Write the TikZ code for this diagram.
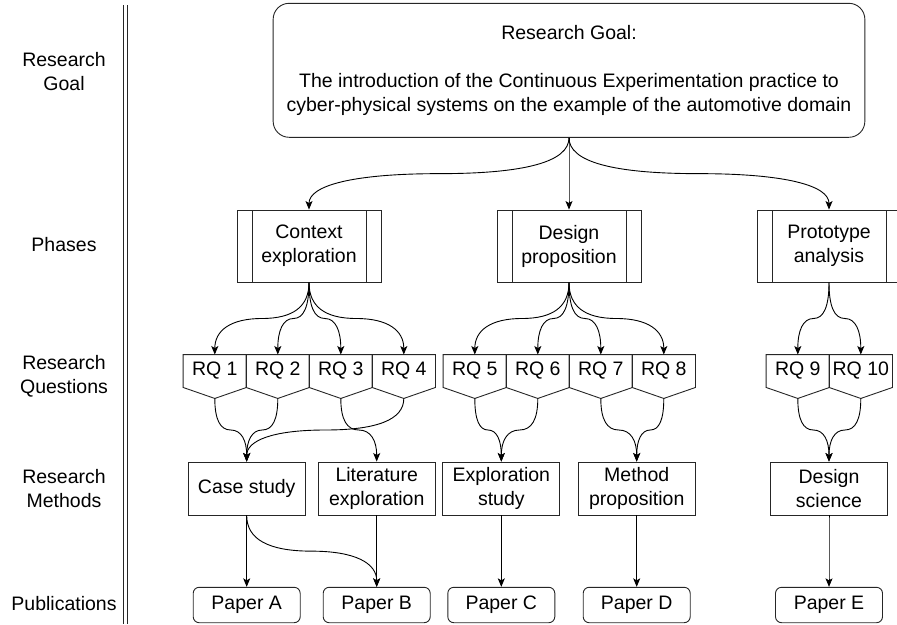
\documentclass[tikz,border=0pt]{standalone}
\usepackage{fontspec}
\setmainfont{Liberation Sans}
\usetikzlibrary{arrows.meta,calc}

\tikzset{
  every node/.style={font=\fontsize{19.5}{24}\selectfont, align=center, inner sep=0pt},
  line/.style={line width=0.9pt, draw=black!85},
  arr/.style={line width=0.9pt, -{Stealth[length=8.5pt,width=7pt,inset=2pt]}},
  % smooth orthogonal-style connector: vertical, across at mid height, vertical
  dio/.style={to path={let \p0=(\tikztostart), \p3=(\tikztotarget) in
    .. controls (\x0,{\y0+(\y3-\y0)/3}) and ({\x0+(\x3-\x0)/6},{(\y0+\y3)/2})
    .. ({(\x0+\x3)/2},{(\y0+\y3)/2})
    .. controls ({\x3-(\x3-\x0)/6},{(\y0+\y3)/2}) and (\x3,{\y3-(\y3-\y0)/3})
    .. (\p3)}},
  goalbox/.style={line, rounded corners=16pt, minimum width=591.7pt, minimum height=134pt},
  phase/.style={line, minimum width=144pt, minimum height=72pt,
    path picture={\draw[line width=0.9pt, draw=black!85]
      ([xshift=15pt]path picture bounding box.north west) -- ([xshift=15pt]path picture bounding box.south west)
      ([xshift=-15pt]path picture bounding box.north east) -- ([xshift=-15pt]path picture bounding box.south east);}},
  rqtext/.style={minimum width=63pt, minimum height=32.5pt},
  method/.style={line, minimum width=117pt, minimum height=53pt},
  paper/.style={line, rounded corners=6pt, minimum width=107pt, minimum height=35.4pt},
  rowlabel/.style={},
}

% research question: pentagon pointing downwards, tip coordinate <name>-tip
\newcommand\rqnode[3]{%
  \node[rqtext] (#1) at (#2,371) {#3};
  \draw[line] (#1.north west) -- (#1.north east) -- (#1.south east)
    -- ($(#1.south)+(0,11)$) -- (#1.south west) -- cycle;
  \coordinate (#1-tip) at ($(#1.south)+(0,11)$);}

\begin{document}
\begin{tikzpicture}[x=1pt, y=-1pt]
\useasboundingbox (0,0) rectangle (897,624);
\clip (0,0) rectangle (897,624);

% row labels and separator
\node[rowlabel] (lgoal) at (64,71.5) {Research\\Goal};
\node[rowlabel] (lphase) at (64,245) {Phases};
\node[rowlabel] (lrq) at (64,376) {Research\\Questions};
\node[rowlabel] (lmeth) at (64,489) {Research\\Methods};
\node[rowlabel] (lpub) at (64,604) {Publications};
\coordinate (sepA) at (123,5);
\coordinate (sepB) at (123,624);
\coordinate (sepC) at (127,5);
\coordinate (sepD) at (127,624);
\draw[line width=0.8pt, black!85] (sepA) -- (sepB) (sepC) -- (sepD);

% research goal
\node[goalbox] (goal) at (569,70.3) {Research Goal:\\[24pt]
  The introduction of the Continuous Experimentation practice to\\
  cyber-physical systems on the example of the automotive domain};

% phases
\node[phase] (ctx) at (309,246) {Context\\exploration};
\node[phase] (des) at (569,246) {Design\\proposition};
\node[phase] (pro) at (829,246) {Prototype\\analysis};

\draw[arr] (goal.south) to[dio] (ctx.north);
\draw[arr] (goal.south) to[dio] (des.north);
\draw[arr] (goal.south) to[dio] (pro.north);

% research questions
\rqnode{rq1}{214.8}{RQ 1}
\rqnode{rq2}{277.8}{RQ 2}
\rqnode{rq3}{340.8}{RQ 3}
\rqnode{rq4}{403.8}{RQ 4}
\rqnode{rq5}{474.8}{RQ 5}
\rqnode{rq6}{537.8}{RQ 6}
\rqnode{rq7}{600.8}{RQ 7}
\rqnode{rq8}{663.8}{RQ 8}
\rqnode{rq9}{797.8}{RQ 9}
\rqnode{rq10}{860.8}{RQ 10}

\foreach \q in {rq1,rq2,rq3,rq4} \draw[arr] (ctx.south) to[dio] (\q.north);
\foreach \q in {rq5,rq6,rq7,rq8} \draw[arr] (des.south) to[dio] (\q.north);
\foreach \q in {rq9,rq10} \draw[arr] (pro.south) to[dio] (\q.north);

% research methods
\node[method] (case) at (246.7,488.5) {Case study};
\node[method] (lit) at (376.7,488.5) {Literature\\exploration};
\node[method] (expl) at (501.3,488.5) {Exploration\\study};
\node[method] (meth) at (636.7,488.5) {Method\\proposition};
\node[method] (dsci) at (829,488.5) {Design\\science};

\foreach \q in {rq1,rq2,rq4} \draw[arr] (\q-tip) to[dio] (case.north);
\draw[arr] (rq3-tip) to[dio] (lit.north);
\foreach \q in {rq5,rq6} \draw[arr] (\q-tip) to[dio] (expl.north);
\foreach \q in {rq7,rq8} \draw[arr] (\q-tip) to[dio] (meth.north);
\foreach \q in {rq9,rq10} \draw[arr] (\q-tip) to[dio] (dsci.north);

% publications
\node[paper] (pa) at (246.7,605) {Paper A};
\node[paper] (pb) at (376.7,605) {Paper B};
\node[paper] (pc) at (501.3,605) {Paper C};
\node[paper] (pd) at (636.7,605) {Paper D};
\node[paper] (pe) at (829,605) {Paper E};

\draw[arr] (case.south) to[dio] (pa.north);
\draw[arr] (case.south) to[dio] (pb.north);
\draw[arr] (lit.south) to[dio] (pb.north);
\draw[arr] (expl.south) to[dio] (pc.north);
\draw[arr] (meth.south) to[dio] (pd.north);
\draw[arr] (dsci.south) to[dio] (pe.north);
\end{tikzpicture}
\end{document}
